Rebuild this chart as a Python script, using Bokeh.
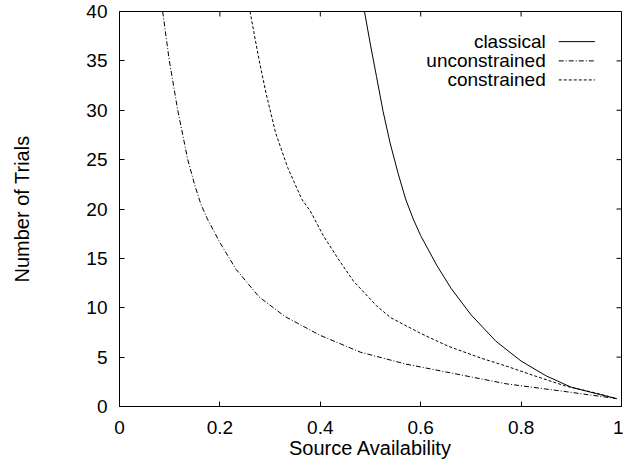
import math
from bokeh.plotting import figure
from bokeh.models import Label, Range1d, FixedTicker
from bokeh.embed import file_html
from bokeh.resources import INLINE

# ---- data ----
classical_x = [0.488, 0.50, 0.512, 0.525, 0.539, 0.555, 0.57, 0.585, 0.60, 0.632, 0.66, 0.70, 0.75, 0.80, 0.85, 0.90, 0.95, 0.99]
classical_y = [40.0, 36.6, 33.4, 29.9, 26.7, 23.6, 21.0, 19.0, 17.3, 14.3, 12.0, 9.3, 6.6, 4.6, 3.1, 1.95, 1.3, 0.8]

unconstrained_x = [0.086, 0.099, 0.116, 0.136, 0.15, 0.162, 0.175, 0.20, 0.232, 0.278, 0.33, 0.40, 0.48, 0.57, 0.65, 0.77, 0.89, 0.99]
unconstrained_y = [40.0, 35.1, 30.0, 25.0, 22.4, 20.5, 19.0, 16.6, 13.9, 11.1, 9.1, 7.2, 5.5, 4.3, 3.5, 2.3, 1.5, 0.8]

constrained_x = [0.260, 0.278, 0.292, 0.311, 0.335, 0.363, 0.38, 0.406, 0.435, 0.466, 0.512, 0.54, 0.60, 0.655, 0.72, 0.77, 0.83, 0.89, 0.95, 0.99]
constrained_y = [40.0, 35.1, 31.7, 27.7, 24.2, 21.0, 19.8, 17.3, 15.0, 12.7, 10.2, 9.0, 7.4, 6.1, 4.9, 4.1, 3.05, 2.05, 1.35, 0.8]

x_ticks = [0, 0.2, 0.4, 0.6, 0.8, 1]
x_tick_labels = ["0", "0.2", "0.4", "0.6", "0.8", "1"]
y_ticks = [0, 5, 10, 15, 20, 25, 30, 35, 40]
y_tick_labels = ["0", "5", "10", "15", "20", "25", "30", "35", "40"]

series_names = ["classical", "unconstrained", "constrained"]

FONT = "Liberation Sans"
FS = "19px"
FS_AX = "20px"

X_MIN, X_MAX = 0, 1
Y_MIN, Y_MAX = 0, 40

p = figure(width=623, height=461, output_backend="svg", toolbar_location=None,
           x_range=Range1d(X_MIN, X_MAX), y_range=Range1d(Y_MIN, Y_MAX),
           min_border_left=119, min_border_right=2, min_border_top=11, min_border_bottom=53)
p.grid.visible = False
p.outline_line_color = "black"
p.outline_line_width = 1
p.background_fill_color = "white"
p.border_fill_color = "white"

def style_axis(ax, ticks, labels):
    ax.ticker = FixedTicker(ticks=ticks)
    ax.major_label_overrides = {t: l for t, l in zip(ticks, labels)}
    ax.minor_tick_line_color = None
    ax.major_tick_in = 5
    ax.major_tick_out = 0
    ax.axis_line_color = "black"
    ax.major_tick_line_color = "black"
    ax.major_label_text_font = FONT
    ax.major_label_text_font_size = FS
    ax.major_label_text_color = "black"
    ax.axis_label_text_font = FONT
    ax.axis_label_text_font_size = FS_AX
    ax.axis_label_text_font_style = "normal"
    ax.axis_label_text_color = "black"

xb = p.xaxis[0]
style_axis(xb, x_ticks, x_tick_labels)
xb.axis_label = "Source Availability"
xb.major_label_standoff = 14
xb.axis_label_standoff = 0

yl = p.yaxis[0]
style_axis(yl, y_ticks, y_tick_labels)
yl.axis_label = "Number of Trials"
yl.major_label_standoff = 12
yl.axis_label_standoff = 50

# mirrored inward ticks on the top and right borders (markers clipped to the frame)
p.scatter(x=[X_MAX] * len(y_ticks), y=y_ticks, marker="dash", size=10, line_color="black", line_width=1)
p.scatter(x=x_ticks, y=[Y_MAX] * len(x_ticks), marker="dash", angle=math.pi / 2, size=10,
          line_color="black", line_width=1)

dashes = ["solid", "5 2 1 2", "3 2"]
xs = [classical_x, unconstrained_x, constrained_x]
ys = [classical_y, unconstrained_y, constrained_y]
for xv, yv, d in zip(xs, ys, dashes):
    p.line(xv, yv, line_color="black", line_width=1, line_dash=d)

# legend (top right, label left of sample)
leg_text_x = 0.849
leg_line_x0, leg_line_x1 = 0.875, 0.947
leg_rows = [36.95, 35.0, 33.07]
for name, d, yy in zip(series_names, dashes, leg_rows):
    p.add_layout(Label(x=leg_text_x, y=yy, text=name, text_align="right", text_baseline="middle",
                       text_font=FONT, text_font_size=FS, text_color="black"))
    p.line([leg_line_x0, leg_line_x1], [yy, yy], line_color="black", line_width=1, line_dash=d)

open("out.html", "w").write(file_html(p, INLINE))
